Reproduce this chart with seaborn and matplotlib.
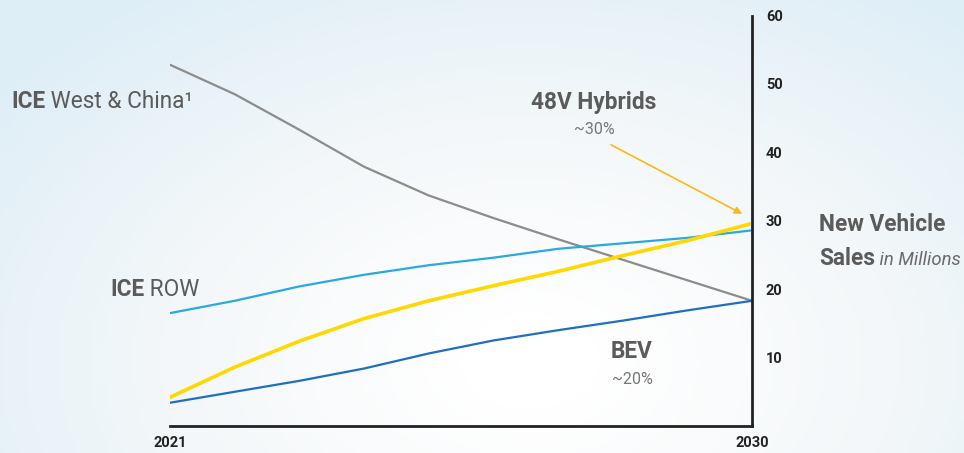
import matplotlib.pyplot as plt
import numpy as np
import pandas as pd
import seaborn as sns
from matplotlib.colors import LinearSegmentedColormap

# values (millions of new vehicles)
years = list(range(2021, 2031))
ice_west_china = [52.8, 48.5, 43.3, 37.9, 33.7, 30.4, 27.3, 24.3, 21.3, 18.3]
ice_row = [16.5, 18.3, 20.4, 22.1, 23.5, 24.6, 25.9, 26.7, 27.5, 28.6]
bev = [3.4, 5.0, 6.6, 8.4, 10.6, 12.5, 14.0, 15.4, 16.9, 18.3]
hybrids_48v = [4.2, 8.6, 12.4, 15.7, 18.3, 20.5, 22.6, 24.9, 27.1, 29.6]
y_ticks = [10, 20, 30, 40, 50, 60]
x_ticks = [2021, 2030]

df = pd.DataFrame({'year': years, 'ICE West & China': ice_west_china,
                   'ICE ROW': ice_row, 'BEV': bev, '48V Hybrids': hybrids_48v})
df = df.melt(id_vars='year', var_name='segment', value_name='sales')

palette = {'ICE West & China': '#8c8c8c', 'ICE ROW': '#2aa9e0',
           'BEV': '#1f6ec0', '48V Hybrids': '#ffd800'}
widths = {'ICE West & China': 1.6, 'ICE ROW': 1.6, 'BEV': 1.6, '48V Hybrids': 2.6}

sns.set_theme(style='white')
plt.rcParams['font.family'] = ['Roboto', 'DejaVu Sans']

fig = plt.figure(figsize=(9.64, 4.53), dpi=100)

# soft background wash
bg = fig.add_axes([0, 0, 1, 1], zorder=-1)
gx, gy = np.meshgrid(np.linspace(0, 1, 300), np.linspace(0, 1, 150))
dist = np.sqrt(((gx - 0.55) / 0.7) ** 2 + ((gy - 0.8) / 1.0) ** 2)
wash = LinearSegmentedColormap.from_list('wash', ['#ffffff', '#f3f7f9', '#deeef7'])
bg.imshow(np.clip(dist, 0, 1), cmap=wash, extent=(0, 1, 0, 1), origin='upper',
          aspect='auto', vmin=0.1, vmax=1.0)
bg.axis('off')

ax = fig.add_axes([170 / 964, 27 / 453, 582 / 964, 410.5 / 453])
ax.set_facecolor('none')
sns.lineplot(data=df, x='year', y='sales', hue='segment', size='segment',
             palette=palette, sizes=widths, legend=False, ax=ax)

ax.set_xlim(2021, 2030)
ax.set_ylim(0, 60)
ax.set_xlabel('')
ax.set_ylabel('')
ax.yaxis.tick_right()
ax.set_yticks(y_ticks)
ax.set_xticks(x_ticks)
ax.tick_params(axis='y', length=0, pad=10, labelsize=10.5, labelcolor='#222222')
ax.tick_params(axis='x', length=0, pad=7, labelsize=10.5, labelcolor='#222222')
for lab in ax.get_xticklabels() + ax.get_yticklabels():
    lab.set_fontweight('bold')
for side in ['left', 'top']:
    ax.spines[side].set_visible(False)
for side in ['right', 'bottom']:
    ax.spines[side].set_color('#222222')
    ax.spines[side].set_linewidth(2)

txt = '#5b5b5b'
big = 16.3
# series labels
t = fig.text(11 / 964, 1 - 108.5 / 453, 'ICE', fontsize=big, fontweight='bold',
             color=txt, va='baseline')
ax.annotate(' West & China¹', xy=(1, 1 - 108.5 / 453), xycoords=(t, 'figure fraction'),
            fontsize=big, color=txt, va='baseline', ha='left')
t = fig.text(110 / 964, 1 - 295.5 / 453, 'ICE', fontsize=big, fontweight='bold',
             color=txt, va='baseline')
ax.annotate(' ROW', xy=(1, 1 - 295.5 / 453), xycoords=(t, 'figure fraction'),
            fontsize=big, color=txt, va='baseline', ha='left')

fig.text(594 / 964, 1 - 108.7 / 453, '48V Hybrids', fontsize=big, fontweight='bold',
         color=txt, va='baseline', ha='center')
fig.text(594 / 964, 1 - 134 / 453, '~30%', fontsize=11.5, color='#777777',
         va='baseline', ha='center')
fig.text(632 / 964, 1 - 358.3 / 453, 'BEV', fontsize=big, fontweight='bold',
         color=txt, va='baseline', ha='center')
fig.text(632 / 964, 1 - 384 / 453, '~20%', fontsize=11.5, color='#777777',
         va='baseline', ha='center')

ax.annotate('', xy=(years[-1] - 0.15, hybrids_48v[-1] + 1.4),
            xytext=(years[-1] - 2.18, hybrids_48v[-1] + 11.5),
            arrowprops=dict(arrowstyle='-|>', color='#fdb913', lw=1.2,
                            mutation_scale=11, shrinkA=0, shrinkB=0))

# axis title on the right
fig.text(819 / 964, 1 - 230.7 / 453, 'New Vehicle', fontsize=big, fontweight='bold',
         color=txt, va='baseline')
t = fig.text(819 / 964, 1 - 265 / 453, 'Sales', fontsize=big, fontweight='bold',
             color=txt, va='baseline')
ax.annotate(' in Millions', xy=(1, 1 - 265 / 453), xycoords=(t, 'figure fraction'),
            fontsize=13.3, fontstyle='italic', color='#6a6a6a', va='baseline', ha='left')

fig.savefig('out.png', dpi=100)
